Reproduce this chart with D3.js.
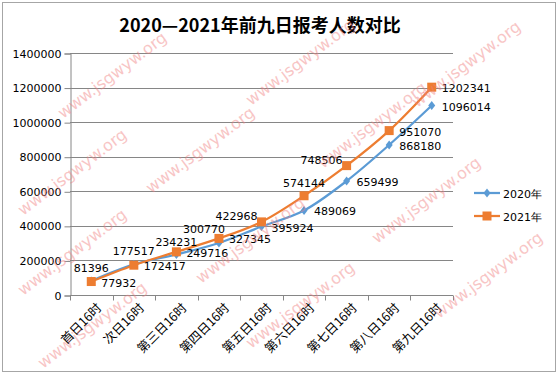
<!DOCTYPE html>
<html>
<head>
<meta charset="utf-8">
<script src="https://cdn.jsdelivr.net/npm/d3@7"></script>
<style>
body { margin: 0; background: #fff; }
</style>
</head>
<body>
<div id="chart"></div>
<script>
// categories and series
var days = ["首日16时", "次日16时", "第三日16时", "第四日16时", "第五日16时", "第六日16时", "第七日16时", "第八日16时", "第九日16时"];
var y2020 = [81396, 177517, 234231, 300770, 395924, 489069, 659499, 868180, 1096014];
var y2021 = [77932, 172417, 249716, 327345, 422968, 574144, 748506, 951070, 1202341];
var seriesNames = ["2020年", "2021年"];
var yTicks = [0, 200000, 400000, 600000, 800000, 1000000, 1200000, 1400000];

// where each data label sits relative to its point
var pos2020 = ["top", "top", "top", "topleft", "right", "right", "right", "right", "right"];
var pos2021 = ["right", "right", "right", "right", "left", "top", "left", "right", "right"];

var W = 559, H = 376;
var margin = { top: 53, left: 70, right: 106, bottom: 81 };

var svg = d3.select("#chart").append("svg")
    .attr("width", W)
    .attr("height", H)

// outer frame
svg.append("rect")
    .attr("x", 2.5).attr("y", 2.5)
    .attr("width", 553).attr("height", 369)
    .attr("fill", "#fff")
    .attr("stroke", "#a6a6a6")

svg.append("text")
    .attr("x", 260).attr("y", 32)
    .attr("text-anchor", "middle")
    .attr("font-family", "Noto Sans CJK SC")
    .attr("font-weight", "bold")
    .attr("font-size", "18px")
    .text("2020—2021年前九日报考人数对比")

var x = d3.scaleBand()
    .domain(days)
    .range([margin.left, W - margin.right])

var y = d3.scaleLinear()
    .domain([0, 1400000])
    .range([H - margin.bottom, margin.top])

// gridlines
svg.append("g")
    .selectAll("line")
    .data(yTicks.slice(1))
    .enter()
    .append("line")
    .attr("x1", margin.left).attr("x2", W - margin.right)
    .attr("y1", d => Math.round(y(d)) + 0.5).attr("y2", d => Math.round(y(d)) + 0.5)
    .attr("stroke", "#868686")

var yAxis = svg.append("g")
    .attr("transform", "translate(" + (margin.left + 0.5) + ",0.5)")
    .call(d3.axisLeft(y).tickValues(yTicks).tickFormat(d3.format("d")).tickSize(6).tickPadding(3))
yAxis.selectAll("line,path").attr("stroke", "#868686")
yAxis.selectAll("text")
    .attr("font-family", "DejaVu Sans")
    .attr("font-size", "11px")
    .attr("fill", "#000")

var xAxis = svg.append("g")
    .attr("transform", "translate(0," + (Math.round(y(0)) + 0.5) + ")")
xAxis.append("line")
    .attr("x1", margin.left).attr("x2", W - margin.right)
    .attr("stroke", "#868686")
xAxis.selectAll(".tk")
    .data(days.concat(["end"]))
    .enter()
    .append("line")
    .attr("class", "tk")
    .attr("x1", (d, i) => Math.round(margin.left + i * x.step()) + 0.5)
    .attr("x2", (d, i) => Math.round(margin.left + i * x.step()) + 0.5)
    .attr("y1", 0).attr("y2", 5)
    .attr("stroke", "#868686")
xAxis.selectAll("text")
    .data(days)
    .enter()
    .append("text")
    .attr("transform", d => "translate(" + (x(d) + x.bandwidth() / 2 + 5) + ",7) rotate(-45)")
    .attr("text-anchor", "end")
    .attr("dy", "0.7em")
    .attr("font-family", "Noto Sans CJK SC")
    .attr("font-size", "12.5px")
    .text(d => d)

var cx = d => x(d) + x.bandwidth() / 2;

var line = d3.line()
    .x((d, i) => cx(days[i]))
    .y(d => y(d))
    .curve(d3.curveCatmullRom.alpha(0.5))

var colors = ["#5b9bd5", "#ed7d31"];
var series = [y2020, y2021];

series.forEach(function(vals, k) {
    svg.append("path")
        .datum(vals)
        .attr("d", line)
        .attr("fill", "none")
        .attr("stroke", colors[k])
        .attr("stroke-width", 2.25)
})

function marker(g, k, px, py) {
    if (k == 0) {
        g.append("path")
            .attr("d", "M" + px + "," + (py - 4.5) + "L" + (px + 3.5) + "," + py + "L" + px + "," + (py + 4.5) + "L" + (px - 3.5) + "," + py + "Z")
            .attr("fill", colors[0])
    } else {
        g.append("rect")
            .attr("x", px - 4.5).attr("y", py - 4.5)
            .attr("width", 9).attr("height", 9)
            .attr("fill", colors[1])
    }
}

var labelG = svg.append("g")
    .attr("font-family", "DejaVu Sans")
    .attr("font-size", "11px")

series.forEach(function(vals, k) {
    var g = svg.append("g");
    var p = k == 0 ? pos2020 : pos2021;
    vals.forEach(function(v, i) {
        var px = cx(days[i]), py = y(v);
        marker(g, k, px, py);
        var t = labelG.append("text").text(v);
        if (p[i] == "top") {
            t.attr("x", px).attr("y", py - 9).attr("text-anchor", "middle")
        } else if (p[i] == "topleft") {
            t.attr("x", px - 15).attr("y", py - 10).attr("text-anchor", "middle")
        } else if (p[i] == "left") {
            t.attr("x", px - 4).attr("y", py - 2).attr("text-anchor", "end")
        } else {
            t.attr("x", px + 10).attr("y", py + 5).attr("text-anchor", "start")
        }
    })
})

// legend
var legend = svg.append("g")
series.forEach(function(vals, k) {
    var ly = 193 + k * 23;
    legend.append("line")
        .attr("x1", 474).attr("x2", 500)
        .attr("y1", ly).attr("y2", ly)
        .attr("stroke", colors[k])
        .attr("stroke-width", 2.25)
    marker(legend, k, 487, ly);
    legend.append("text")
        .attr("x", 503).attr("y", ly + 5)
        .attr("font-family", "DejaVu Sans")
        .attr("font-size", "11px")
        .text(seriesNames[k])
})

// watermark
var marks = [[112, 75], [300, 62], [466, 64], [372, 125], [72, 172], [426, 200], [250, 240], [72, 252], [92, 325], [300, 305], [488, 275], [200, 150]];
svg.append("g")
    .selectAll("text")
    .data(marks)
    .enter()
    .append("text")
    .attr("transform", d => "translate(" + d[0] + "," + d[1] + ") rotate(-37)")
    .attr("text-anchor", "middle")
    .attr("dy", "0.35em")
    .attr("font-family", "DejaVu Sans")
    .attr("font-size", "16px")
    .attr("fill", "#f08080")
    .attr("opacity", 0.45)
    .text("www.jsgwyw.org")
</script>
</body>
</html>
